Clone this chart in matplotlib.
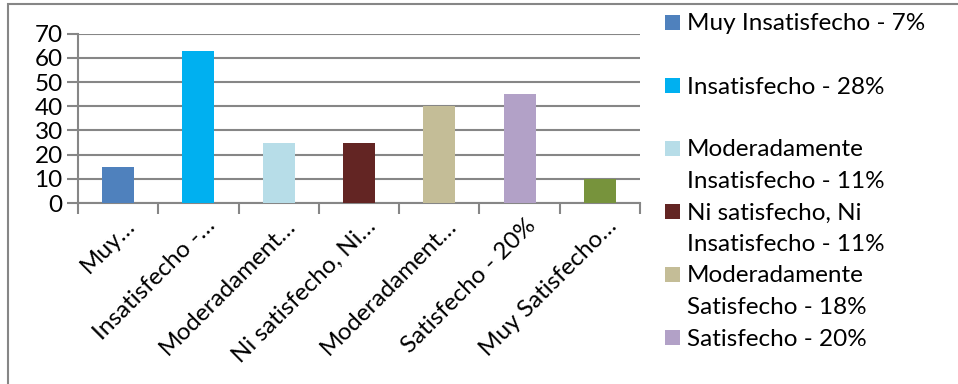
import matplotlib
matplotlib.use("Agg")
import matplotlib.pyplot as plt
from matplotlib.patches import Rectangle
from matplotlib.transforms import offset_copy

categories = ["Muy Insatisfecho - 7%", "Insatisfecho - 28%",
              "Moderadamente Insatisfecho - 11%", "Ni satisfecho, Ni Insatisfecho - 11%",
              "Moderadamente Satisfecho - 18%", "Satisfecho - 20%", "Muy Satisfecho - 4%"]
tick_labels = ["Muy…", "Insatisfecho -…", "Moderadament…", "Ni satisfecho, Ni…",
               "Moderadament…", "Satisfecho - 20%", "Muy Satisfecho…"]
values = [15, 63, 25, 25, 40, 45, 10]
legend_labels = ["Muy Insatisfecho - 7%", "Insatisfecho - 28%",
                 "Moderadamente\nInsatisfecho - 11%", "Ni satisfecho, Ni\nInsatisfecho - 11%",
                 "Moderadamente\nSatisfecho - 18%", "Satisfecho - 20%"]
colors = ["#4F81BD", "#00B0F0", "#B7DDE8", "#632523", "#C4BD97", "#B2A1C7", "#77933C"]
yticks = [0, 10, 20, 30, 40, 50, 60, 70]

FONT = "Lato"
FS = 17.5
W, H = 958, 384
fig = plt.figure(figsize=(W / 100, H / 100), dpi=100)
fig.patch.set_facecolor("white")

# outer chart border
fig.patches.append(Rectangle((8 / W, -0.1), 1.2, 1.1 - 4 / H, transform=fig.transFigure,
                             fill=False, edgecolor="#868686", linewidth=1.5))

ax = fig.add_axes([78 / W, (H - 203) / H, (640 - 78) / W, (203 - 33.7) / H])
x = list(range(len(values)))
ax.bar(x, values, width=0.4, color=colors, zorder=3)
ax.set_xlim(-0.5, len(values) - 0.5)
ax.set_ylim(0, 70)
ax.set_yticks(yticks)
ax.set_yticklabels([str(v) for v in yticks], fontsize=FS, family=FONT)
ax.yaxis.grid(True, color="#868686", linewidth=1.5, zorder=0)
ax.tick_params(axis="y", length=8, width=1.5, color="#868686", pad=3)
for s in ["top", "right"]:
    ax.spines[s].set_visible(False)
for s in ["left", "bottom"]:
    ax.spines[s].set_color("#868686")
    ax.spines[s].set_linewidth(1.5)

ax.set_xticks([i - 0.5 for i in range(len(values) + 1)])
ax.set_xticklabels([""] * (len(values) + 1))
ax.tick_params(axis="x", length=8, width=1.5, color="#868686")
ax.set_xticks(x, minor=True)
ax.tick_params(axis="x", which="minor", length=0)
ax.set_xticklabels([""] * len(x), minor=True)
# rotated category labels (Excel-like placement)
lab_tr = offset_copy(ax.get_xaxis_transform(), fig=fig, x=6, y=-12, units="dots")
for xi, lab in zip(x, tick_labels):
    ax.text(xi, 0, lab, transform=lab_tr, rotation=45, ha="right", va="top",
            rotation_mode="anchor", fontsize=FS, family=FONT)

# legend drawn manually (Excel-style, handle aligned to first line)
leg_x = 665 / W
for i, (lab, c) in enumerate(zip(legend_labels, colors)):
    yc = 22 + i * 63
    fig.patches.append(Rectangle((leg_x, (H - yc - 7.5) / H), 15 / W, 15 / H,
                                 transform=fig.transFigure, facecolor=c, edgecolor="none"))
    for j, line in enumerate(lab.split("\n")):
        fig.text(687 / W, (H - yc - j * 31.5) / H, line, ha="left", va="center_baseline",
                 fontsize=FS, family=FONT)

fig.savefig("out.png", dpi=100)
